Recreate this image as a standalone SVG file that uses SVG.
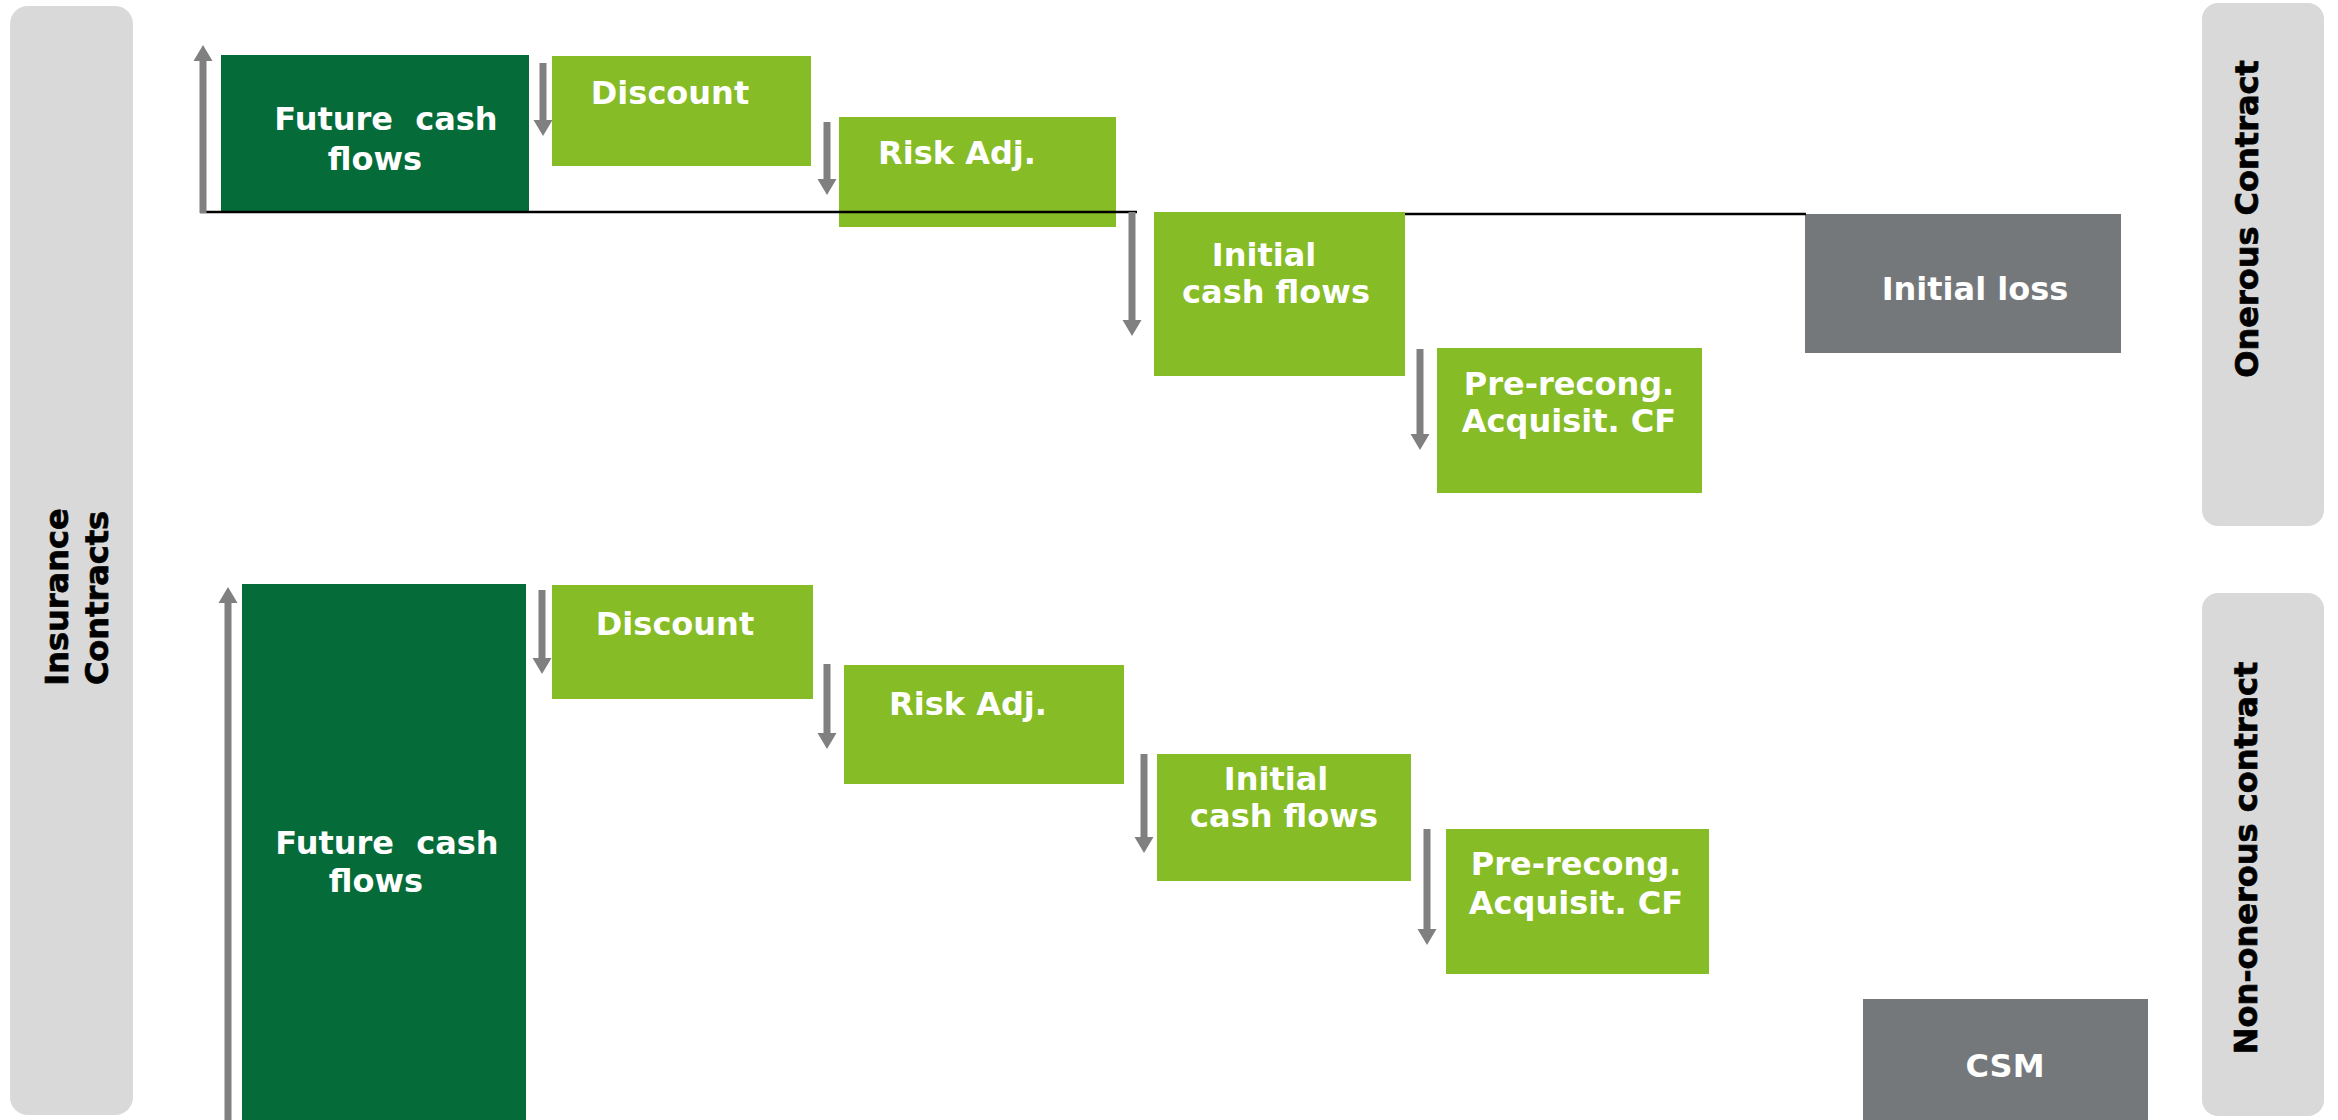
<svg xmlns="http://www.w3.org/2000/svg" width="2338" height="1120" viewBox="0 0 2338 1120">
<style>
.bar{fill:#D9D9D9}
.dk{fill:#056B39}
.lg{fill:#86BC25}
.gr{fill:#75787B}
.t{font-family:"DejaVu Sans",Verdana,sans-serif;font-weight:bold;font-size:32px;fill:#FFFFFF;text-anchor:middle}
.s{font-family:"DejaVu Sans",Verdana,sans-serif;font-weight:bold;font-size:32px;fill:#000000;stroke:#000000;stroke-width:0.7;text-anchor:middle}
.ar{stroke:#808080;stroke-width:7;fill:none;marker-end:url(#ah)}
.base{stroke:#000000;stroke-width:2.5}
</style>
<defs>
<marker id="ah" markerUnits="userSpaceOnUse" markerWidth="16" markerHeight="20" viewBox="0 0 16 20" refX="0" refY="10" orient="auto">
<path d="M0,0.5 L16,10 L0,19.5 z" fill="#808080"/>
</marker>
</defs>
<rect width="2338" height="1120" fill="#FFFFFF"/>
<g id="side-insurance">
<rect class="bar" x="10" y="6" width="123" height="1109" rx="18"/>
<text class="s" transform="translate(68,597) rotate(-90)">Insurance</text>
<text class="s" transform="translate(108,598) rotate(-90)">Contracts</text>
</g>
<g id="side-onerous">
<rect class="bar" x="2202" y="3" width="122" height="523" rx="16"/>
<text class="s" transform="translate(2258,219) rotate(-90)">Onerous Contract</text>
</g>
<g id="side-nononerous">
<rect class="bar" x="2202" y="593" width="122" height="523" rx="16"/>
<text class="s" transform="translate(2257,858) rotate(-90)">Non-onerous contract</text>
</g>
<g id="top-fcf">
<rect class="dk" x="221" y="55" width="308" height="158"/>
<text class="t" x="386" y="130" xml:space="preserve">Future  cash</text>
<text class="t" x="375" y="170">flows</text>
</g>
<g id="top-discount">
<rect class="lg" x="552" y="56" width="259" height="110"/>
<text class="t" x="670" y="104">Discount</text>
</g>
<g id="top-risk">
<rect class="lg" x="839" y="117" width="277" height="110"/>
<text class="t" x="957" y="164">Risk Adj.</text>
</g>
<g id="top-initial">
<rect class="lg" x="1154" y="212" width="251" height="164"/>
<text class="t" x="1264" y="266">Initial</text>
<text class="t" x="1276" y="303">cash flows</text>
</g>
<g id="top-prerecong">
<rect class="lg" x="1437" y="348" width="265" height="145"/>
<text class="t" x="1569" y="395">Pre-recong.</text>
<text class="t" x="1569" y="432">Acquisit. CF</text>
</g>
<g id="top-loss">
<rect class="gr" x="1805" y="214" width="316" height="139"/>
<text class="t" x="1975" y="300">Initial loss</text>
</g>
<g id="bot-fcf">
<rect class="dk" x="242" y="584" width="284" height="540"/>
<text class="t" x="387" y="854" xml:space="preserve">Future  cash</text>
<text class="t" x="376" y="892">flows</text>
</g>
<g id="bot-discount">
<rect class="lg" x="552" y="585" width="261" height="114"/>
<text class="t" x="675" y="635">Discount</text>
</g>
<g id="bot-risk">
<rect class="lg" x="844" y="665" width="280" height="119"/>
<text class="t" x="968" y="715">Risk Adj.</text>
</g>
<g id="bot-initial">
<rect class="lg" x="1157" y="754" width="254" height="127"/>
<text class="t" x="1276" y="790">Initial</text>
<text class="t" x="1284" y="827">cash flows</text>
</g>
<g id="bot-prerecong">
<rect class="lg" x="1446" y="829" width="263" height="145"/>
<text class="t" x="1576" y="875">Pre-recong.</text>
<text class="t" x="1576" y="914">Acquisit. CF</text>
</g>
<g id="bot-csm">
<rect class="gr" x="1863" y="999" width="285" height="125"/>
<text class="t" x="2005" y="1077">CSM</text>
</g>
<g id="connectors">
<line class="base" x1="200" y1="212" x2="1137" y2="212"/>
<line class="base" x1="1405" y1="214" x2="1806" y2="214"/>
<line class="ar" x1="203" y1="213" x2="203" y2="61"/>
<line class="ar" x1="543" y1="63" x2="543" y2="120"/>
<line class="ar" x1="827" y1="122" x2="827" y2="179"/>
<line class="ar" x1="1132" y1="212" x2="1132" y2="320"/>
<line class="ar" x1="1420" y1="349" x2="1420" y2="434"/>
<line class="ar" x1="228" y1="1124" x2="228" y2="603"/>
<line class="ar" x1="542" y1="590" x2="542" y2="658"/>
<line class="ar" x1="827" y1="664" x2="827" y2="733"/>
<line class="ar" x1="1144" y1="754" x2="1144" y2="837"/>
<line class="ar" x1="1427" y1="829" x2="1427" y2="929"/>
</g>
</svg>
